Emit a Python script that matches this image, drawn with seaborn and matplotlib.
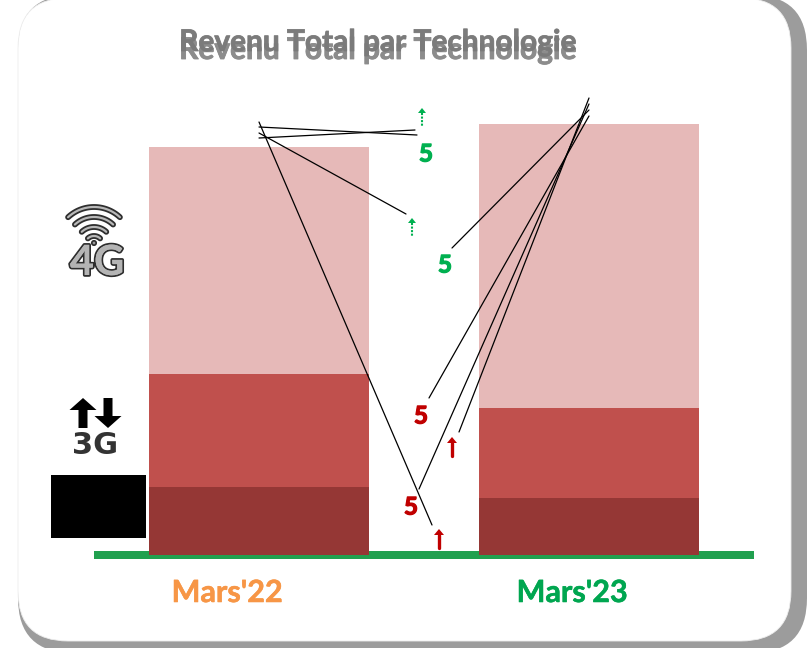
import numpy as np
import matplotlib
matplotlib.use('Agg')
import matplotlib.pyplot as plt
import matplotlib.patheffects as pe
from matplotlib.patches import FancyBboxPatch, Rectangle
import seaborn as sns

# Values (bar heights)
months = ["Mars'22", "Mars'23"]
revenue_low = [68, 57]
revenue_mid = [113, 90]
revenue_4g = [227, 284]
label_values = ['5', '5', '5', '5']

W, H = 812, 648

sns.set_theme(style='white')
plt.rcParams['font.family'] = ['Lato', 'DejaVu Sans']

fig = plt.figure(figsize=(W / 100, H / 100), dpi=100, facecolor='white')


def pixel_axes(zorder):
    a = fig.add_axes([0, 0, 1, 1], zorder=zorder)
    a.set_xlim(0, W)
    a.set_ylim(H, 0)
    a.axis('off')
    a.patch.set_alpha(0)
    return a


def heavy(col, w=0.6):
    return [pe.withStroke(linewidth=w, foreground=col)]


# Card and shadow
bg = pixel_axes(0)
for (x0, y0, x1, y1, r, col, ec) in [(18, -5, 807, 653, 55, '#9c9c9c', 'none'),
                                     (18, -2, 791, 641, 50, 'white', '#eeeeee')]:
    bg.add_patch(FancyBboxPatch((x0 + r, y0 + r), x1 - x0 - 2 * r, y1 - y0 - 2 * r,
                                boxstyle=f'round,pad={r},rounding_size={r}',
                                fc=col, ec=ec, lw=0.6))

# Stacked bars
ax = fig.add_axes([94 / W, (H - 555) / H, 660 / W, 460 / H], zorder=1)
ax.patch.set_alpha(0)
bottom_mid = np.array(revenue_low)
bottom_4g = bottom_mid + np.array(revenue_mid)
for vals, bottom, col in [(revenue_low, 0, '#953735'),
                          (revenue_mid, bottom_mid, '#c0504d'),
                          (revenue_4g, bottom_4g, '#e6b9b8')]:
    sns.barplot(x=months, y=vals, bottom=bottom, color=col, saturation=1,
                width=2 / 3, ax=ax, zorder=3, edgecolor='none', linewidth=0)
ax.set_xlim(-0.5, 1.5)
ax.set_ylim(0, 460)
ax.set_yticks([])
ax.set_xticks([])
ax.set_xlabel('')
sns.despine(ax=ax, left=True)
ax.spines['bottom'].set_color('#21a04f')
ax.spines['bottom'].set_linewidth(5.76)
ax.spines['bottom'].set_capstyle('butt')
ax.spines['bottom'].set_zorder(1)

# Everything on top of the bars
fg = pixel_axes(2)

# Month labels sit left of the bar centres in the original
for name, x, col in zip(months, [227, 572], ['#f79646', '#00a650']):
    fg.text(x, 593, name, color=col, fontsize=22, fontweight='bold', ha='center', va='center',
            path_effects=heavy(col, 0.4))

# Title and its shadow
fg.text(378, 50, 'Revenu Total par Technologie', color='#8c8c8c', fontsize=21.5,
        fontweight='bold', ha='center', va='center', path_effects=heavy('#8c8c8c'))
fg.text(378, 42, 'Revenu Total par Technologie', color='#7a7a7a', alpha=0.9, fontsize=21.5,
        fontweight='bold', ha='center', va='center', path_effects=heavy('#7a7a7a'))

# Leader lines
leaders = [((259, 122), (432, 525)), ((259, 127), (417, 135)), ((259, 138), (415, 130)),
           ((259, 133), (406, 214)), ((589, 98), (459, 432)), ((589, 104), (419, 489)),
           ((589, 110), (452, 248)), ((589, 116), (429, 398))]
for (x0, y0), (x1, y1) in leaders:
    fg.plot([x0, x1], [y0, y1], color='black', lw=0.9)

# Labels
label_pos = [(426, 154, '#00b050'), (445, 265, '#00b050'), (421, 416, '#c00000'), (411, 507, '#c00000')]
for val, (x, y, col) in zip(label_values, label_pos):
    fg.text(x, y, val, color=col, fontsize=17.5, fontweight='bold', ha='center', va='center',
            path_effects=heavy(col, 0.9))


def small_arrow(x, y_top, y_bot, col, head_w, head_l, lw, ls):
    fg.plot([x, x], [y_top + head_l, y_bot], color=col, lw=lw, ls=ls)
    fg.fill([x - head_w / 2, x, x + head_w / 2], [y_top + head_l, y_top, y_top + head_l], color=col, lw=0)


small_arrow(422, 108, 126, '#00b050', 8, 5, 1.5, (0, (1, 0.7)))
small_arrow(412, 218, 236, '#00b050', 8, 5, 1.5, (0, (1, 0.7)))
small_arrow(452, 437, 456, '#c00000', 10, 6, 2.4, '-')
small_arrow(439, 529, 548, '#c00000', 10, 6, 2.4, '-')

# 4G icon
t = np.radians(np.linspace(-43, 43, 40))
for r in [38, 28, 18, 9]:
    fg.plot(94 + r * np.sin(t), 245 - r * np.cos(t), color='#2e2e2e', lw=4.2, solid_capstyle='round')
    fg.plot(94 + r * np.sin(t), 245 - r * np.cos(t), color='#b8b8b8', lw=1.6, solid_capstyle='round')
fg.add_patch(plt.Circle((94, 243), 2.2, fc='#999999', ec='#2e2e2e', lw=1.2))
fg.text(97, 263, '4G', color='#b4b4b4', fontsize=30, fontweight='bold', ha='center', va='center',
        path_effects=[pe.withStroke(linewidth=2.6, foreground='#2e2e2e'),
                      pe.Normal()])

# 3G icon
fg.arrow(83, 428, 0, -30, width=9, head_width=27, head_length=12, length_includes_head=True, color='black', lw=0)
fg.arrow(108, 398, 0, 30, width=9, head_width=27, head_length=12, length_includes_head=True, color='black', lw=0)
fg.text(95, 445, '3G', color='#333333', fontsize=22, fontweight='bold', ha='center', va='center',
        family='DejaVu Sans')

# Black box
fg.add_patch(Rectangle((51, 475), 95, 63, fc='black', ec='none'))

fig.savefig('out.png', dpi=100, facecolor='white')
